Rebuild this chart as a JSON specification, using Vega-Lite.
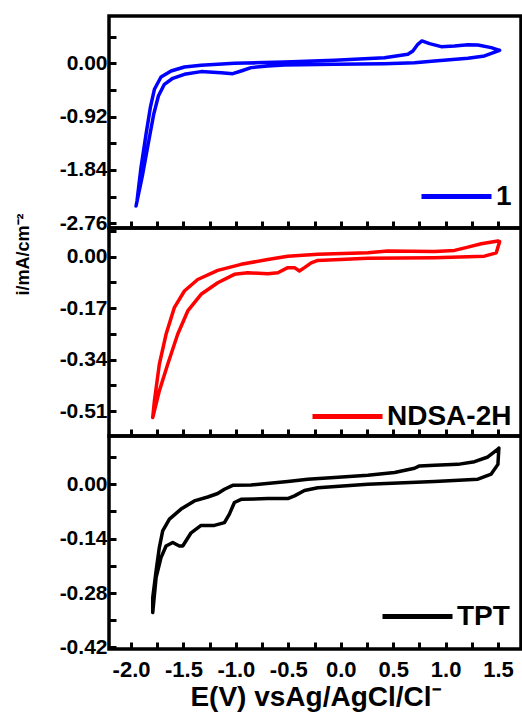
{
  "$schema": "https://vega.github.io/schema/vega-lite/v6.json",
  "padding": {"left": 12, "top": 14, "right": 0, "bottom": 5},
  "background": "white",
  "data": {"values": [
    {"s":"1","k":1,"E":1.515,"i":0.224},{"s":"1","k":2,"E":1.371,"i":0.126},{"s":"1","k":3,"E":1.213,"i":0.086},{"s":"1","k":4,"E":0.894,"i":0.040},{"s":"1","k":5,"E":0.704,"i":0.011},{"s":"1","k":6,"E":0.417,"i":-0.006},{"s":"1","k":7,"E":-0.060,"i":-0.018},{"s":"1","k":8,"E":-0.537,"i":-0.029},{"s":"1","k":9,"E":-0.696,"i":-0.047},{"s":"1","k":10,"E":-0.855,"i":-0.075},{"s":"1","k":11,"E":-0.950,"i":-0.133},{"s":"1","k":12,"E":-1.030,"i":-0.179},{"s":"1","k":13,"E":-1.141,"i":-0.162},{"s":"1","k":14,"E":-1.332,"i":-0.144},{"s":"1","k":15,"E":-1.491,"i":-0.190},{"s":"1","k":16,"E":-1.602,"i":-0.259},{"s":"1","k":17,"E":-1.682,"i":-0.363},{"s":"1","k":18,"E":-1.739,"i":-0.564},{"s":"1","k":19,"E":-1.784,"i":-0.881},{"s":"1","k":20,"E":-1.831,"i":-1.341},{"s":"1","k":21,"E":-1.889,"i":-1.916},{"s":"1","k":22,"E":-1.952,"i":-2.463},{"s":"1","k":23,"E":-1.943,"i":-2.377},{"s":"1","k":24,"E":-1.905,"i":-1.802},{"s":"1","k":25,"E":-1.857,"i":-1.226},{"s":"1","k":26,"E":-1.816,"i":-0.766},{"s":"1","k":27,"E":-1.777,"i":-0.449},{"s":"1","k":28,"E":-1.714,"i":-0.236},{"s":"1","k":29,"E":-1.618,"i":-0.133},{"s":"1","k":30,"E":-1.491,"i":-0.064},{"s":"1","k":31,"E":-1.332,"i":-0.035},{"s":"1","k":32,"E":-1.014,"i":-0.001},{"s":"1","k":33,"E":-0.537,"i":0.022},{"s":"1","k":34,"E":-0.060,"i":0.051},{"s":"1","k":35,"E":0.417,"i":0.097},{"s":"1","k":36,"E":0.640,"i":0.155},{"s":"1","k":37,"E":0.688,"i":0.212},{"s":"1","k":38,"E":0.735,"i":0.327},{"s":"1","k":39,"E":0.774,"i":0.385},{"s":"1","k":40,"E":0.847,"i":0.339},{"s":"1","k":41,"E":0.958,"i":0.287},{"s":"1","k":42,"E":1.085,"i":0.299},{"s":"1","k":43,"E":1.213,"i":0.320},{"s":"1","k":44,"E":1.308,"i":0.316},{"s":"1","k":45,"E":1.435,"i":0.270},{"s":"1","k":46,"E":1.515,"i":0.224},

    {"s":"NDSA-2H","k":1,"E":1.515,"i":0.050},{"s":"NDSA-2H","k":2,"E":1.483,"i":0.013},{"s":"NDSA-2H","k":3,"E":1.371,"i":0.002},{"s":"NDSA-2H","k":4,"E":0.894,"i":-0.003},{"s":"NDSA-2H","k":5,"E":0.258,"i":-0.005},{"s":"NDSA-2H","k":6,"E":-0.219,"i":-0.012},{"s":"NDSA-2H","k":7,"E":-0.282,"i":-0.020},{"s":"NDSA-2H","k":8,"E":-0.346,"i":-0.036},{"s":"NDSA-2H","k":9,"E":-0.394,"i":-0.047},{"s":"NDSA-2H","k":10,"E":-0.441,"i":-0.036},{"s":"NDSA-2H","k":11,"E":-0.505,"i":-0.036},{"s":"NDSA-2H","k":12,"E":-0.600,"i":-0.053},{"s":"NDSA-2H","k":13,"E":-0.696,"i":-0.056},{"s":"NDSA-2H","k":14,"E":-0.887,"i":-0.053},{"s":"NDSA-2H","k":15,"E":-1.014,"i":-0.058},{"s":"NDSA-2H","k":16,"E":-1.173,"i":-0.086},{"s":"NDSA-2H","k":17,"E":-1.332,"i":-0.124},{"s":"NDSA-2H","k":18,"E":-1.459,"i":-0.179},{"s":"NDSA-2H","k":19,"E":-1.555,"i":-0.256},{"s":"NDSA-2H","k":20,"E":-1.650,"i":-0.355},{"s":"NDSA-2H","k":21,"E":-1.730,"i":-0.443},{"s":"NDSA-2H","k":22,"E":-1.793,"i":-0.531},{"s":"NDSA-2H","k":23,"E":-1.777,"i":-0.476},{"s":"NDSA-2H","k":24,"E":-1.730,"i":-0.355},{"s":"NDSA-2H","k":25,"E":-1.666,"i":-0.256},{"s":"NDSA-2H","k":26,"E":-1.587,"i":-0.168},{"s":"NDSA-2H","k":27,"E":-1.491,"i":-0.113},{"s":"NDSA-2H","k":28,"E":-1.364,"i":-0.075},{"s":"NDSA-2H","k":29,"E":-1.173,"i":-0.045},{"s":"NDSA-2H","k":30,"E":-0.950,"i":-0.025},{"s":"NDSA-2H","k":31,"E":-0.696,"i":-0.009},{"s":"NDSA-2H","k":32,"E":-0.505,"i":0.002},{"s":"NDSA-2H","k":33,"E":-0.219,"i":0.008},{"s":"NDSA-2H","k":34,"E":0.258,"i":0.013},{"s":"NDSA-2H","k":35,"E":0.449,"i":0.019},{"s":"NDSA-2H","k":36,"E":0.894,"i":0.017},{"s":"NDSA-2H","k":37,"E":1.085,"i":0.021},{"s":"NDSA-2H","k":38,"E":1.213,"i":0.032},{"s":"NDSA-2H","k":39,"E":1.340,"i":0.043},{"s":"NDSA-2H","k":40,"E":1.499,"i":0.052},{"s":"NDSA-2H","k":41,"E":1.515,"i":0.050},

    {"s":"TPT","k":1,"E":1.508,"i":0.093},{"s":"TPT","k":2,"E":1.499,"i":0.051},{"s":"TPT","k":3,"E":1.435,"i":0.026},{"s":"TPT","k":4,"E":1.308,"i":0.013},{"s":"TPT","k":5,"E":0.894,"i":0.007},{"s":"TPT","k":6,"E":0.258,"i":0.000},{"s":"TPT","k":7,"E":-0.219,"i":-0.009},{"s":"TPT","k":8,"E":-0.346,"i":-0.016},{"s":"TPT","k":9,"E":-0.441,"i":-0.030},{"s":"TPT","k":10,"E":-0.505,"i":-0.037},{"s":"TPT","k":11,"E":-0.696,"i":-0.037},{"s":"TPT","k":12,"E":-0.950,"i":-0.039},{"s":"TPT","k":13,"E":-1.014,"i":-0.047},{"s":"TPT","k":14,"E":-1.062,"i":-0.077},{"s":"TPT","k":15,"E":-1.109,"i":-0.099},{"s":"TPT","k":16,"E":-1.205,"i":-0.106},{"s":"TPT","k":17,"E":-1.332,"i":-0.106},{"s":"TPT","k":18,"E":-1.427,"i":-0.125},{"s":"TPT","k":19,"E":-1.507,"i":-0.159},{"s":"TPT","k":20,"E":-1.539,"i":-0.159},{"s":"TPT","k":21,"E":-1.602,"i":-0.150},{"s":"TPT","k":22,"E":-1.666,"i":-0.159},{"s":"TPT","k":23,"E":-1.714,"i":-0.189},{"s":"TPT","k":24,"E":-1.761,"i":-0.240},{"s":"TPT","k":25,"E":-1.793,"i":-0.330},{"s":"TPT","k":26,"E":-1.793,"i":-0.292},{"s":"TPT","k":27,"E":-1.761,"i":-0.223},{"s":"TPT","k":28,"E":-1.730,"i":-0.163},{"s":"TPT","k":29,"E":-1.698,"i":-0.120},{"s":"TPT","k":30,"E":-1.634,"i":-0.090},{"s":"TPT","k":31,"E":-1.523,"i":-0.064},{"s":"TPT","k":32,"E":-1.396,"i":-0.043},{"s":"TPT","k":33,"E":-1.268,"i":-0.033},{"s":"TPT","k":34,"E":-1.173,"i":-0.024},{"s":"TPT","k":35,"E":-1.109,"i":-0.013},{"s":"TPT","k":36,"E":-1.030,"i":-0.003},{"s":"TPT","k":37,"E":-0.855,"i":-0.002},{"s":"TPT","k":38,"E":-0.505,"i":0.007},{"s":"TPT","k":39,"E":-0.314,"i":0.013},{"s":"TPT","k":40,"E":-0.060,"i":0.017},{"s":"TPT","k":41,"E":0.258,"i":0.023},{"s":"TPT","k":42,"E":0.513,"i":0.030},{"s":"TPT","k":43,"E":0.704,"i":0.041},{"s":"TPT","k":44,"E":0.751,"i":0.047},{"s":"TPT","k":45,"E":0.894,"i":0.049},{"s":"TPT","k":46,"E":1.117,"i":0.051},{"s":"TPT","k":47,"E":1.276,"i":0.058},{"s":"TPT","k":48,"E":1.403,"i":0.070},{"s":"TPT","k":49,"E":1.499,"i":0.090},{"s":"TPT","k":50,"E":1.508,"i":0.093}
  ]},
  "spacing": 0,
  "bounds": "flush",
  "resolve": {"scale": {"color": "independent", "y": "independent"}, "legend": {"color": "independent"}},
  "vconcat": [
    {
      "width": 412, "height": 212,
      "transform": [{"filter": "datum.s == '1'"}],
      "mark": {"type": "line", "strokeWidth": 3.5, "strokeJoin": "round", "strokeCap": "round"},
      "encoding": {
        "x": {"field": "E", "type": "quantitative", "scale": {"domain": [-2.21, 1.719], "nice": false, "zero": false},
              "axis": {"values": [-2,-1.75,-1.5,-1.25,-1,-0.75,-0.5,-0.25,0,0.25,0.5,0.75,1,1.25,1.5], "labels": false, "title": null}},
        "y": {"field": "i", "type": "quantitative", "scale": {"domain": [-2.843, 0.816], "nice": false, "zero": false},
              "axis": {"values": [0.46,0,-0.46,-0.92,-1.38,-1.84,-2.3,-2.76], "format": ".2f", "title": null,
                       "labelExpr": "abs(datum.value/0.92 - round(datum.value/0.92)) < 0.01 ? replace(datum.label, '\u2212', '-') : ''"}},
        "order": {"field": "k", "type": "quantitative"},
        "color": {"field": "s", "type": "nominal", "scale": {"domain": ["1"], "range": ["#0000ff"]},
                  "legend": {"orient": "none", "legendX": 310, "legendY": 143}}
      }
    },
    {
      "width": 412, "height": 208,
      "transform": [{"filter": "datum.s == 'NDSA-2H'"}],
      "mark": {"type": "line", "strokeWidth": 3.5, "strokeJoin": "round", "strokeCap": "round"},
      "encoding": {
        "x": {"field": "E", "type": "quantitative", "scale": {"domain": [-2.21, 1.719], "nice": false, "zero": false},
              "axis": {"values": [-2,-1.75,-1.5,-1.25,-1,-0.75,-0.5,-0.25,0,0.25,0.5,0.75,1,1.25,1.5], "labels": false, "title": null}},
        "y": {"field": "i", "type": "quantitative", "scale": {"domain": [-0.592, 0.095], "nice": false, "zero": false},
              "axis": {"values": [0.085,0,-0.085,-0.17,-0.255,-0.34,-0.425,-0.51], "format": ".2f",
                       "title": "i/mA/cm\u207B\u00B2", "titleFontSize": 18, "titleX": -86, "titleY": 26, "titleAngle": -90, "titleAlign": "center", "titleBaseline": "middle",
                       "labelExpr": "abs(datum.value/0.17 - round(datum.value/0.17)) < 0.01 ? replace(datum.label, '\u2212', '-') : ''"}},
        "order": {"field": "k", "type": "quantitative"},
        "color": {"field": "s", "type": "nominal", "scale": {"domain": ["NDSA-2H"], "range": ["#ff0000"]},
                  "legend": {"orient": "none", "legendX": 201, "legendY": 151}}
      }
    },
    {
      "width": 412, "height": 213,
      "transform": [{"filter": "datum.s == 'TPT'"}],
      "mark": {"type": "line", "strokeWidth": 3.5, "strokeJoin": "round", "strokeCap": "round"},
      "encoding": {
        "x": {"field": "E", "type": "quantitative", "scale": {"domain": [-2.21, 1.719], "nice": false, "zero": false},
              "axis": {"values": [-2,-1.75,-1.5,-1.25,-1,-0.75,-0.5,-0.25,0,0.25,0.5,0.75,1,1.25,1.5], "format": ".1f",
                       "labelExpr": "abs(datum.value*2 - round(datum.value*2)) < 0.01 ? replace(datum.label, '\u2212', '-') : ''",
                       "labelPadding": 17, "labelFontSize": 22,
                       "title": "E(V) vsAg/AgCl/Cl\u207B", "titleFontSize": 28, "titlePadding": 3}},
        "y": {"field": "i", "type": "quantitative", "scale": {"domain": [-0.424, 0.124], "nice": false, "zero": false},
              "axis": {"values": [0.07,0,-0.07,-0.14,-0.21,-0.28,-0.35,-0.42], "format": ".2f", "title": null,
                       "labelExpr": "abs(datum.value/0.14 - round(datum.value/0.14)) < 0.01 ? replace(datum.label, '\u2212', '-') : ''"}},
        "order": {"field": "k", "type": "quantitative"},
        "color": {"field": "s", "type": "nominal", "scale": {"domain": ["TPT"], "range": ["#000000"]},
                  "legend": {"orient": "none", "legendX": 271, "legendY": 143}}
      }
    }
  ],
  "config": {
    "font": "Liberation Sans",
    "view": {"stroke": "black", "strokeWidth": 3.5},
    "axis": {"labelFont": "Liberation Sans", "labelFontWeight": "bold", "labelFontSize": 21, "labelColor": "black",
             "tickColor": "black", "tickWidth": 3, "tickSize": -7, "labelPadding": 9, "domain": false, "grid": false,
             "titleFont": "Liberation Sans", "titleFontWeight": "bold", "titleColor": "black"},
    "legend": {"title": null, "symbolType": "stroke", "symbolSize": 4900, "symbolStrokeWidth": 5, "padding": 0,
               "labelFont": "Liberation Sans", "labelFontWeight": "bold", "labelFontSize": 28, "labelColor": "black", "labelOffset": 2}
  }
}
